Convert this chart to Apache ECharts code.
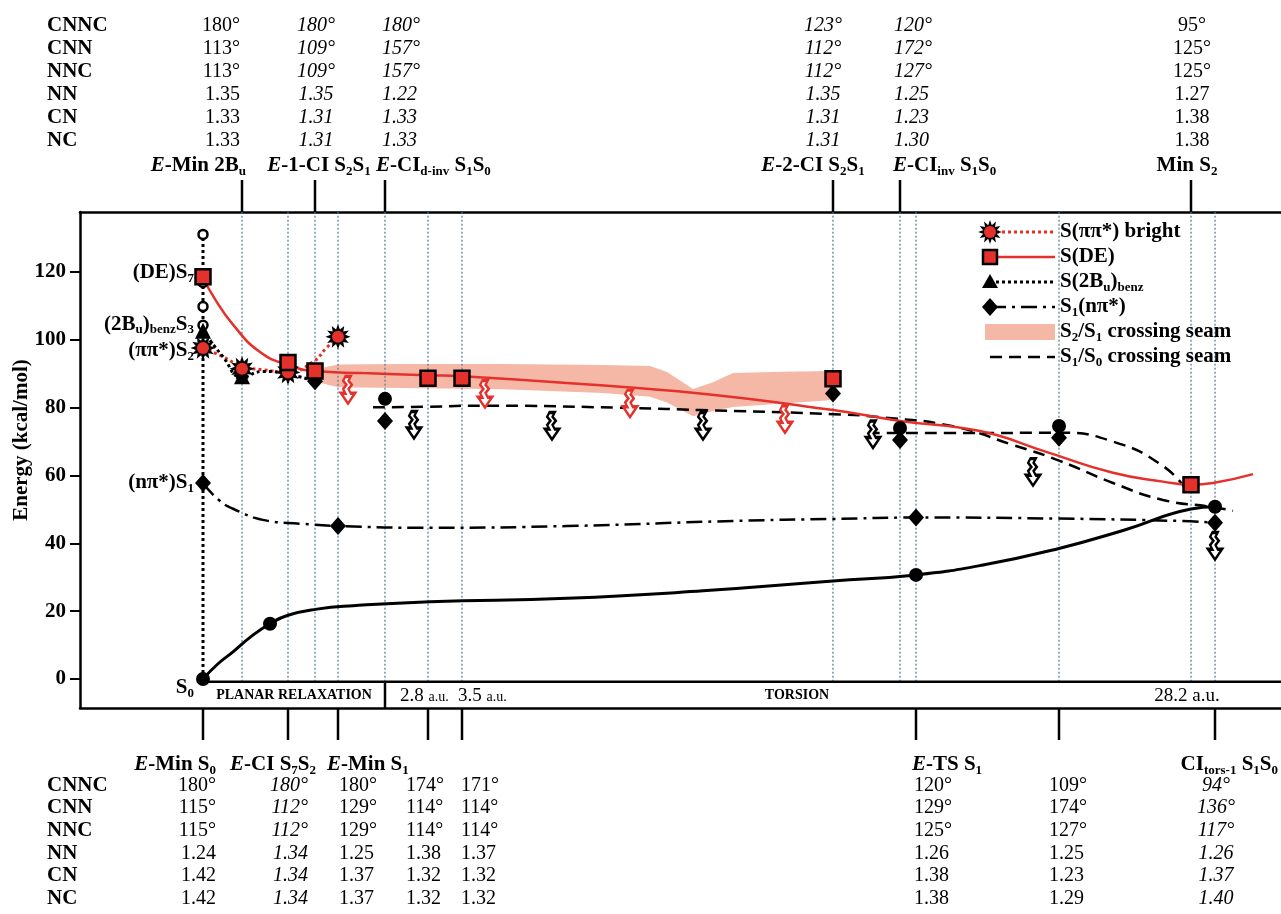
<!DOCTYPE html>
<html>
<head>
<meta charset="utf-8">
<title>Energy profile along the reaction path</title>
<script src="https://cdn.jsdelivr.net/npm/echarts@6/dist/echarts.min.js"></script>
<style>
  html, body { margin: 0; padding: 0; background: #fff; }
  #main { width: 1281px; height: 914px; }
</style>
</head>
<body>
<div id="main"></div>
<script>
// ---- data (reaction coordinate in arbitrary path units, energies in kcal/mol) ----
var stationX = [0, 3.9, 8.5, 11.2, 13.5, 18.2, 22.5, 25.9, 63.0, 69.7, 71.3, 85.6, 98.8, 101.2];
var yTicks = [0, 20, 40, 60, 80, 100, 120];

var s0Curve = [[0, 0], [1.5, 4.5], [3, 8], [4.8, 12.5], [6.7, 16.3], [8.5, 18.8], [11.4, 20.6],
  [15, 21.6], [22.7, 22.8], [36.4, 23.8], [50, 26], [63, 28.9], [71.3, 30.7], [78, 33.6],
  [85.6, 38.5], [92, 43.8], [98.8, 50.1], [101.2, 50.8]];
var s0Dots = [[0, 0], [6.7, 16.3], [71.3, 30.7], [101.2, 50.8]];
var s0CrossDots = [[18.2, 82.6], [69.7, 74.0], [85.6, 74.6]];

var s1Curve = [[0, 57.8], [1.5, 53], [3, 50.2], [6.4, 46.7], [9.7, 45.8], [13.5, 45.1], [22.7, 44.6],
  [36.4, 45.1], [53, 46.6], [63, 47.2], [71.3, 47.6], [85.6, 47.3], [97.7, 46.6], [101.2, 46.1]];
var s1Diamonds = [[0, 57.8], [13.5, 45.1], [71.3, 47.6], [101.2, 46.1]];
var s1CrossDiamonds = [[11.2, 87.8], [18.2, 76.1], [63, 84.2], [69.7, 70.5], [85.6, 71.1]];

var deCurve = [[0, 118.4], [1.2, 112], [3, 104.5], [5.7, 96.4], [8.5, 92.6], [11.2, 90.8], [16, 90.2],
  [22.5, 89.6], [25.9, 89.3], [36.4, 87.3], [49.7, 84.2], [63, 79.3],
  [69.7, 76.1], [77.7, 73.1], [84.4, 66.9], [91, 60.8], [96, 58.2], [98.8, 57.3], [101, 57.8], [105, 60.4]];
var deSquares = [[0, 118.6], [8.5, 93.3], [11.2, 90.8], [22.5, 88.7], [25.9, 88.7], [63, 88.5], [98.8, 57.3]];

var brightCurve = [[0, 97.6], [2, 95], [3.9, 92.2], [6, 91.2], [8.5, 90.4], [11, 93.5], [12.3, 97.5], [13.5, 100.9]];
var brightStars = [[0, 97.6], [3.9, 91.5], [8.5, 90.4], [13.5, 100.9]];

var benzCurve = [[0, 102.7], [2, 95], [3.9, 89.0], [6, 90.7], [8.5, 89.9], [11.2, 87.8]];
var benzTriangles = [[0, 102.7], [3.9, 89.3]];

var fcCircles = [[0, 131.1], [0, 116.9], [0, 109.8], [0, 104.3]];

var seamX = [11.5, 13.5, 20, 30, 40, 44.7, 46.4, 49, 51, 53, 58, 63];
var seamUpper = [91.5, 92.7, 92.9, 92.9, 92.6, 92.3, 90.5, 85.5, 87.5, 90.2, 90.6, 90.8];
var seamLower = [87.5, 86.0, 85.8, 85.4, 84.3, 83.2, 81.5, 77.5, 79.0, 80.2, 81.2, 82.3];

var s1s0SeamA = [[17, 80.1], [22.5, 80.3], [28, 80.6], [43, 79.9], [49.7, 79.3], [63, 78.1], [67.7, 77.2],
  [75, 74.5], [81, 69], [85.6, 64.4], [91, 57.8], [96, 52.8], [101, 50.7], [103, 49.6]];
var s1s0SeamB = [[66.5, 72.5], [75, 72.5], [85.6, 72.6], [91, 70], [96, 62.8], [98.5, 55.2]];

var decayS2 = [[14.5, 85.2], [28.2, 84.0], [42.7, 81.2], [58.2, 76.6]];
var decayS1 = [[21.1, 74.9], [34.9, 74.6], [50.0, 74.6], [67.0, 72.1], [83.0, 61.0], [101.2, 39.2]];

// geometry tables
var rowNames = ['CNNC', 'CNN', 'NNC', 'NN', 'CN', 'NC'];
var topStations = [3.9, 11.2, 18.2, 63.0, 69.7, 98.8];
var topNames = ['{bi|E}{b|-Min 2B}{sub|u}', '{bi|E}{b|-1-CI S}{sub|2}{b|S}{sub|1}',
  '{bi|E}{b|-CI}{sub|d-inv}{b| S}{sub|1}{b|S}{sub|0}', '{bi|E}{b|-2-CI S}{sub|2}{b|S}{sub|1}',
  '{bi|E}{b|-CI}{sub|inv}{b| S}{sub|1}{b|S}{sub|0}', '{b|Min S}{sub|2}'];
var topValues = [
  ['180°', '113°', '113°', '1.35', '1.33', '1.33'],
  ['180°', '109°', '109°', '1.35', '1.31', '1.31'],
  ['180°', '157°', '157°', '1.22', '1.33', '1.33'],
  ['123°', '112°', '112°', '1.35', '1.31', '1.31'],
  ['120°', '172°', '127°', '1.25', '1.23', '1.30'],
  ['95°', '125°', '125°', '1.27', '1.38', '1.38']];
var topItalic = [false, true, true, true, true, false];

var bottomStations = [0, 8.5, 13.5, 22.5, 25.9, 71.3, 85.6, 101.2];
var bottomNames = ['{bi|E}{b|-Min S}{sub|0}', '{bi|E}{b|-CI S}{sub|7}{b|S}{sub|2}', '{bi|E}{b|-Min S}{sub|1}',
  '', '', '{bi|E}{b|-TS S}{sub|1}', '', '{b|CI}{sub|tors-1}{b| S}{sub|1}{b|S}{sub|0}'];
var bottomValues = [
  ['180°', '115°', '115°', '1.24', '1.42', '1.42'],
  ['180°', '112°', '112°', '1.34', '1.34', '1.34'],
  ['180°', '129°', '129°', '1.25', '1.37', '1.37'],
  ['174°', '114°', '114°', '1.38', '1.32', '1.32'],
  ['171°', '114°', '114°', '1.37', '1.32', '1.32'],
  ['120°', '129°', '125°', '1.26', '1.38', '1.38'],
  ['109°', '174°', '127°', '1.25', '1.23', '1.29'],
  ['94°', '136°', '117°', '1.26', '1.37', '1.40']];
var bottomItalic = [false, true, false, false, false, false, false, true];

// ---- layout / style ----
var RED = '#e4312b';
var SEAM = '#f6b8a6';
var GUIDE = '#4f7a96';
var FONT = '"Liberation Serif", "Times New Roman", serif';
var xMin = -12.3, xMax = 107.8, yMin = -8.55, yMax = 137.7, stripTop = -0.8;

var topValAlign = ['right', 'center', 'left', 'center', 'left', 'center'];
var topValDx = [-2, 1, -3, -10, -6, 1];
var topLabAlign = ['right', 'center', 'left', 'center', 'left', 'center'];
var topLabDx = [4, 4, -9, -20, -7, -4];
var bottomValAlign = ['right', 'right', 'left', 'left', 'left', 'left', 'left', 'center'];
var bottomValDx = [13, 20, 1, -22, -1, -2, -10, 1];
var bottomLabAlign = ['right', 'right', 'left', 'left', 'left', 'left', 'left', 'right'];
var bottomLabDx = [13, 28, -11, 0, 0, -4, 0, 63];
var topRowsY = [26, 49, 72, 95, 118, 141], topLabelY = 166;
var bottomRowsY = [786, 808, 831, 854, 876, 899], bottomLabelY = 765;

function tok(o) { o.fontFamily = FONT; o.color = '#000'; o.fill = '#000'; return o; }
var rich = {
  b: tok({ fontWeight: 'bold', fontSize: 21, lineHeight: 24 }),
  bi: tok({ fontWeight: 'bold', fontStyle: 'italic', fontSize: 21, lineHeight: 24 }),
  sub: tok({ fontWeight: 'bold', fontSize: 13, lineHeight: 13, verticalAlign: 'bottom' }),
  v: tok({ fontSize: 20, lineHeight: 22 }),
  vi: tok({ fontSize: 20, fontStyle: 'italic', lineHeight: 22 }),
  sc: tok({ fontWeight: 'bold', fontSize: 14, lineHeight: 18 }),
  n: tok({ fontSize: 19, lineHeight: 22 }),
  ns: tok({ fontSize: 14, lineHeight: 16, verticalAlign: 'middle', padding: [3, 0, 0, 0] })
};

function starPoints(cx, cy, n, r1, r2) {
  var pts = [];
  for (var i = 0; i < 2 * n; i++) {
    var r = i % 2 ? r2 : r1;
    var a = Math.PI * i / n - Math.PI / 2;
    pts.push([cx + r * Math.cos(a), cy + r * Math.sin(a)]);
  }
  return pts;
}
var starSymbol = 'path://' + starPoints(50, 50, 12, 50, 30).map(function (p, i) {
  return (i ? 'L' : 'M') + p[0].toFixed(1) + ',' + p[1].toFixed(1);
}).join('') + 'Z';
var waveArrow = 'path://M4,0L9,0L7,4L10,8L7,12L9,16L13,16L6.5,26L0,16L4,16L2,12L5,8L2,4Z';

function curve(data, color, width, dash, z) {
  return { type: 'line', data: data, smooth: 0.5, showSymbol: false, symbol: 'none',
    lineStyle: { color: color, width: width, type: dash }, z: z || 3, silent: true };
}
function marks(data, symbol, size, color, border, z) {
  return { type: 'scatter', data: data, symbol: symbol, symbolSize: size,
    itemStyle: { color: color, borderColor: border || color, borderWidth: border ? 2.5 : 0, opacity: 1 },
    z: z || 5, silent: true };
}

var chart = echarts.init(document.getElementById('main'));

chart.setOption({
  animation: false,
  backgroundColor: '#fff',
  grid: { left: 80, right: 0, top: 212, bottom: 206 },
  xAxis: [0, 1].map(function (i) {
    return { type: 'value', min: xMin, max: xMax, position: i ? 'top' : 'bottom',
      axisLine: { show: true, onZero: false, lineStyle: { color: '#000', width: 2.5 } },
      axisTick: { show: false }, axisLabel: { show: false }, splitLine: { show: false } };
  }),
  yAxis: {
    type: 'value', min: yMin, max: yMax,
    axisLine: { show: true, onZero: false, lineStyle: { color: '#000', width: 2.5 } },
    axisTick: { show: true, length: 10, inside: false, lineStyle: { color: '#000', width: 2 }, customValues: yTicks },
    axisLabel: { customValues: yTicks, color: '#000', fontFamily: FONT, fontWeight: 'bold', fontSize: 21, margin: 14 },
    splitLine: { show: false }
  },
  series: [
    { // S2/S1 crossing seam band
      type: 'custom', data: [[seamX[0], seamUpper[0]]], z: 1, silent: true,
      renderItem: function (params, api) {
        var pts = [], i;
        for (i = 0; i < seamX.length; i++) pts.push(api.coord([seamX[i], seamUpper[i]]));
        for (i = seamX.length - 1; i >= 0; i--) pts.push(api.coord([seamX[i], seamLower[i]]));
        return { type: 'polygon', shape: { points: pts }, style: { fill: SEAM } };
      }
    },
    { // dotted guides at each structure
      type: 'custom', data: stationX.slice(1).map(function (x) { return [x, stripTop]; }), z: 2, silent: true,
      renderItem: function (params, api) {
        var a = api.coord([api.value(0), stripTop]), b = api.coord([api.value(0), yMax]);
        return { type: 'line', shape: { x1: a[0], y1: a[1], x2: b[0], y2: b[1] },
          style: { stroke: GUIDE, lineWidth: 1.2, lineDash: [2, 2] } };
      }
    },
    { // strip separating the path regions
      type: 'custom', data: [[0, stripTop]], z: 6, silent: true,
      renderItem: function (params, api) {
        var a = api.coord([0, stripTop]), b = api.coord([xMax, stripTop]);
        var c = api.coord([stationX[5], stripTop]), d = api.coord([stationX[5], yMin]);
        return { type: 'group', children: [
          { type: 'line', shape: { x1: a[0], y1: a[1], x2: b[0], y2: b[1] }, style: { stroke: '#000', lineWidth: 2.5 } },
          { type: 'line', shape: { x1: c[0], y1: c[1], x2: d[0], y2: d[1] }, style: { stroke: '#000', lineWidth: 2.5 } }
        ] };
      }
    },
    { type: 'line', data: [[0, 0], fcCircles[0]], showSymbol: false, symbol: 'none', z: 3, silent: true,
      lineStyle: { color: '#000', width: 3, type: [3, 3] } },
    curve(s0Curve, '#000', 3, 'solid'),
    curve(s1Curve, '#000', 2.5, [16, 6, 3, 6]),
    curve(s1s0SeamA, '#000', 2.5, [12, 7]),
    curve(s1s0SeamB, '#000', 2.5, [12, 7]),
    curve(deCurve, RED, 2.5, 'solid', 4),
    curve(brightCurve, RED, 3, [3, 3], 4),
    curve(benzCurve, '#000', 3, [3, 3], 4),
    marks(decayS2, waveArrow, [14, 27], '#fff', RED, 5),
    marks(decayS1, waveArrow, [14, 27], '#fff', '#000', 5),
    marks(fcCircles, 'circle', 9, '#fff', '#000', 5),
    marks(s0Dots, 'circle', 14, '#000', null, 6),
    marks(s0CrossDots, 'circle', 14, '#000', null, 6),
    marks(s1Diamonds, 'diamond', [16, 18], '#000', null, 6),
    marks(s1CrossDiamonds, 'diamond', [16, 18], '#000', null, 6),
    marks(benzTriangles, 'triangle', 16, '#000', null, 6),
    marks(brightStars, starSymbol, 25, '#000', null, 7),
    marks(brightStars, 'circle', 12, RED, null, 8),
    marks(deSquares, 'rect', 15, RED, '#000', 9)
  ]
});

// ---- annotations placed through the axis scales ----
function px(s) { return chart.convertToPixel({ xAxisIndex: 0 }, s); }
function py(v) { return chart.convertToPixel({ yAxisIndex: 0 }, v); }
function text(x, y, str, align, extra) {
  var el = { type: 'text', x: x, y: y, z: 20, silent: true,
    style: { text: str, rich: rich, align: align, verticalAlign: 'middle', fill: '#000' } };
  if (extra) for (var k in extra) el[k] = extra[k];
  return el;
}
function vline(x, y1, y2) {
  return { type: 'line', z: 20, silent: true, shape: { x1: x, y1: y1, x2: x, y2: y2 },
    style: { stroke: '#000', lineWidth: 2.5 } };
}

var g = [];
var gridTop = py(yMax), gridBottom = py(yMin);

// row names
rowNames.forEach(function (r, i) {
  g.push(text(47, topRowsY[i], '{b|' + r + '}', 'left'));
  g.push(text(47, bottomRowsY[i], '{b|' + r + '}', 'left'));
});
// top tables
topStations.forEach(function (s, c) {
  var x = px(s);
  g.push(vline(x, gridTop - 32, gridTop));
  g.push(text(x + topLabDx[c], topLabelY, topNames[c], topLabAlign[c]));
  topValues[c].forEach(function (v, r) {
    g.push(text(x + topValDx[c], topRowsY[r], '{' + (topItalic[c] ? 'vi' : 'v') + '|' + v + '}', topValAlign[c]));
  });
});
// bottom tables
bottomStations.forEach(function (s, c) {
  var x = px(s);
  g.push(vline(x, gridBottom, gridBottom + 32));
  if (bottomNames[c]) g.push(text(x + bottomLabDx[c], bottomLabelY, bottomNames[c], bottomLabAlign[c]));
  bottomValues[c].forEach(function (v, r) {
    g.push(text(x + bottomValDx[c], bottomRowsY[r], '{' + (bottomItalic[c] ? 'vi' : 'v') + '|' + v + '}', bottomValAlign[c]));
  });
});

// strip captions
var stripY = (py(stripTop) + gridBottom) / 2 + 1;
g.push(text((px(0) + px(stationX[5])) / 2, stripY, '{sc|PLANAR RELAXATION}', 'center'));
g.push(text(px(stationX[6]) - 28, stripY, '{n|2.8 }{ns|a.u.}', 'left'));
g.push(text(px(stationX[7]) - 4, stripY, '{n|3.5 }{ns|a.u.}', 'left'));
g.push(text(px(59.4), stripY, '{sc|TORSION}', 'center'));
g.push(text(px(98.4), stripY, '{n|28.2 a.u.}', 'center'));

// state labels at the Franck-Condon point
var stateLabels = [
  [119.7, '{b|(DE)S}{sub|7}'],
  [104.6, '{b|(2B}{sub|u}{b|)}{sub|benz}{b|S}{sub|3}'],
  [96.8, '{b|(ππ*)S}{sub|2}'],
  [57.8, '{b|(nπ*)S}{sub|1}'],
  [-2.6, '{b|S}{sub|0}']
];
stateLabels.forEach(function (l) { g.push(text(px(0) - 9, py(l[0]), l[1], 'right')); });

// y axis title
g.push({ type: 'text', x: 22, y: 440, rotation: Math.PI / 2, z: 20, silent: true,
  style: { text: 'Energy (kcal/mol)', font: 'bold 21px ' + FONT, align: 'center', verticalAlign: 'middle', fill: '#000' } });

// legend
var lx0 = 990, lx1 = 1055, ltx = 1060, ly0 = 232, ldy = 25;
function lrow(i) { return ly0 + i * ldy; }
function lline(i, color, width, dash) {
  return { type: 'line', z: 20, silent: true, shape: { x1: lx0, y1: lrow(i), x2: lx1, y2: lrow(i) },
    style: { stroke: color, lineWidth: width, lineDash: dash } };
}
g.push(lline(0, RED, 3, [3, 3]));
g.push({ type: 'polygon', z: 21, silent: true, shape: { points: starPoints(lx0, lrow(0), 12, 12, 7) }, style: { fill: '#000' } });
g.push({ type: 'circle', z: 22, silent: true, shape: { cx: lx0, cy: lrow(0), r: 6 }, style: { fill: RED } });
g.push(lline(1, RED, 2.5, null));
g.push({ type: 'rect', z: 21, silent: true, shape: { x: lx0 - 7, y: lrow(1) - 7, width: 14, height: 14 },
  style: { fill: RED, stroke: '#000', lineWidth: 2.5 } });
g.push(lline(2, '#000', 3, [3, 3]));
g.push({ type: 'polygon', z: 21, silent: true,
  shape: { points: [[lx0, lrow(2) - 8], [lx0 + 8, lrow(2) + 6], [lx0 - 8, lrow(2) + 6]] }, style: { fill: '#000' } });
g.push(lline(3, '#000', 2.5, [16, 6, 3, 6]));
g.push({ type: 'polygon', z: 21, silent: true,
  shape: { points: [[lx0, lrow(3) - 9], [lx0 + 8, lrow(3)], [lx0, lrow(3) + 9], [lx0 - 8, lrow(3)]] }, style: { fill: '#000' } });
g.push({ type: 'rect', z: 20, silent: true, shape: { x: lx0 - 5, y: lrow(4) - 8, width: lx1 - lx0 + 5, height: 16 },
  style: { fill: SEAM } });
g.push(lline(5, '#000', 2.5, [12, 7]));
var legendTexts = ['{b|S(ππ*) bright}', '{b|S(DE)}', '{b|S(2B}{sub|u}{b|)}{sub|benz}',
  '{b|S}{sub|1}{b|(nπ*)}', '{b|S}{sub|2}{b|/S}{sub|1}{b| crossing seam}', '{b|S}{sub|1}{b|/S}{sub|0}{b| crossing seam}'];
legendTexts.forEach(function (t, i) { g.push(text(ltx, lrow(i), t, 'left')); });

chart.setOption({ graphic: g });
</script>
</body>
</html>
